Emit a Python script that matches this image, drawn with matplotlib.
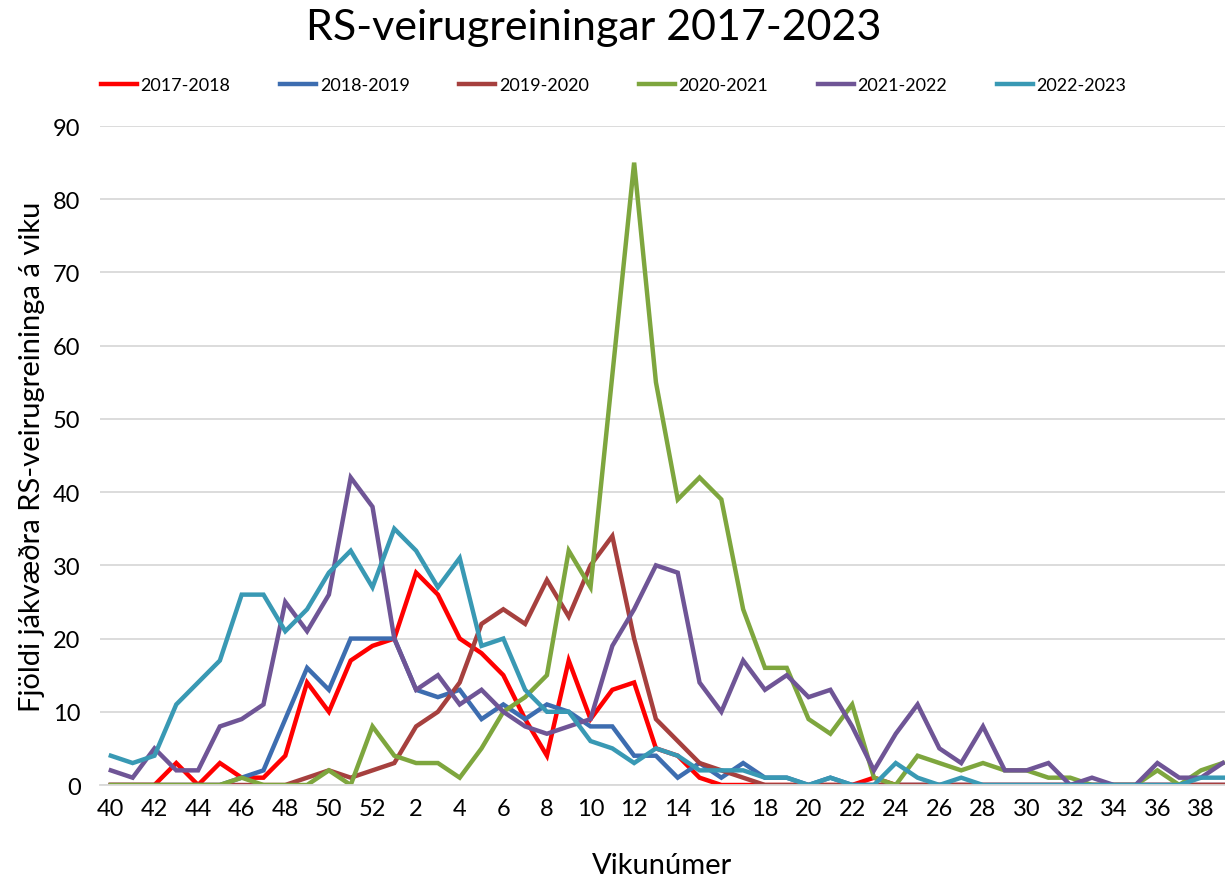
import matplotlib.pyplot as plt
import numpy as np

plt.rcParams['font.family'] = ['Lato', 'DejaVu Sans']

weeks = list(range(40, 53)) + list(range(1, 40))

s2017 = [0, 0, 0, 3, 0, 3, 1, 1, 4, 14, 10, 17, 19, 20, 29, 26, 20, 18, 15, 9, 4, 17, 9, 13, 14, 5,
         4, 1, 0, 0, 0, 0, 0, 0, 0, 1, 0, 0, 0, 0, 0, 0, 0, 0, 0, 0, 0, 0, 0, 0, 0, 0]
s2018 = [0, 0, 0, 0, 0, 0, 1, 2, 9, 16, 13, 20, 20, 20, 13, 12, 13, 9, 11, 9, 11, 10, 8, 8, 4, 4,
         1, 3, 1, 3, 1, 1, 0, 1, 0, 0, 0, 0, 0, 0, 0, 0, 0, 0, 0, 0, 0, 0, 0, 0, 0, 0]
s2019 = [0, 0, 0, 0, 0, 0, 0, 0, 0, 1, 2, 1, 2, 3, 8, 10, 14, 22, 24, 22, 28, 23, 30, 34, 20, 9,
         6, 3, 2, 1, 0, 0, 0, 0, 0, 0, 0, 0, 0, 0, 0, 0, 0, 0, 0, 0, 0, 0, 0, 0, 0, 0]
s2020 = [0, 0, 0, 0, 0, 0, 1, 0, 0, 0, 2, 0, 8, 4, 3, 3, 1, 5, 10, 12, 15, 32, 27, 56, 85, 55,
         39, 42, 39, 24, 16, 16, 9, 7, 11, 1, 0, 4, 3, 2, 3, 2, 2, 1, 1, 0, 0, 0, 2, 0, 2, 3]
s2021 = [2, 1, 5, 2, 2, 8, 9, 11, 25, 21, 26, 42, 38, 20, 13, 15, 11, 13, 10, 8, 7, 8, 9, 19, 24, 30,
         29, 14, 10, 17, 13, 15, 12, 13, 8, 2, 7, 11, 5, 3, 8, 2, 2, 3, 0, 1, 0, 0, 3, 1, 1, 3]
s2022 = [4, 3, 4, 11, 14, 17, 26, 26, 21, 24, 29, 32, 27, 35, 32, 27, 31, 19, 20, 13, 10, 10, 6, 5, 3, 5,
         4, 2, 2, 2, 1, 1, 0, 1, 0, 0, 3, 1, 0, 1, 0, 0, 0, 0, 0, 0, 0, 0, 0, 0, 1, 1]

series = [
    ('2017-2018', s2017, '#FF0000'),
    ('2018-2019', s2018, '#3D6DB0'),
    ('2019-2020', s2019, '#A6403E'),
    ('2020-2021', s2020, '#7EA63E'),
    ('2021-2022', s2021, '#6F5596'),
    ('2022-2023', s2022, '#3999B4'),
]

fig = plt.figure(figsize=(12.25, 8.79), dpi=100)
ax = fig.add_axes([0.0816, 0.1058, 0.9184, 0.7497])

x = np.arange(len(weeks))
for label, vals, col in series:
    ax.plot(x, vals, color=col, lw=3.2, label=label, solid_joinstyle='miter')

ax.set_xlim(-0.5, 51.1)
ax.set_ylim(0, 90)
ax.set_yticks(range(0, 91, 10))
ax.set_xticks(x[::2])
ax.set_xticklabels([str(w) for w in weeks[::2]])
ax.tick_params(axis='both', length=0, labelsize=17, colors='#000000')
ax.tick_params(axis='y', pad=14)
ax.tick_params(axis='x', pad=9)
ax.grid(axis='y', color='#D9D9D9', lw=1.3)
ax.set_axisbelow(True)
for sp in ['top', 'right', 'left']:
    ax.spines[sp].set_visible(False)
ax.spines['bottom'].set_color('#D9D9D9')
ax.spines['bottom'].set_linewidth(1.3)

ax.set_xlabel('Vikunúmer', fontsize=21, labelpad=24)
ax.set_ylabel('Fjöldi jákvæðra RS-veirugreininga á viku', fontsize=21, labelpad=6)

fig.suptitle('RS-veirugreiningar 2017-2023', fontsize=31, x=0.485, y=0.99)
fig.legend(loc='center left', bbox_to_anchor=(0.069, 0.902), ncol=6, frameon=False,
           fontsize=13, handlelength=2.0, handletextpad=0.2, columnspacing=2.75)

fig.savefig('out.png', dpi=100)
